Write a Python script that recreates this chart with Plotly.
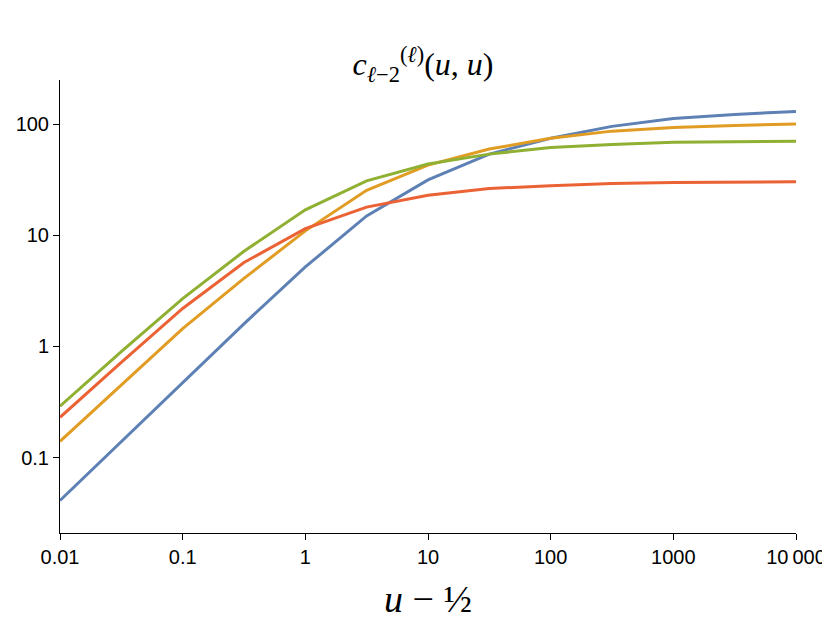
import plotly.graph_objects as go

x = [0.01, 0.0316, 0.1, 0.316, 1, 3.16, 10, 31.6, 100, 316, 1000, 3162, 10000]

blue = [0.041, 0.14, 0.47, 1.6, 5.2, 15, 31.6, 54, 75, 96, 113, 123, 131]
orange = [0.14, 0.45, 1.45, 4.1, 11, 25.5, 43, 60, 75, 87, 94, 98, 101]
green = [0.29, 0.9, 2.7, 7.2, 17, 31, 44, 54, 62, 66, 69, 70, 70.5]
red = [0.23, 0.72, 2.2, 5.7, 11.5, 18, 23, 26.5, 28, 29.3, 30, 30.3, 30.5]

series = [
    ("blue", blue, "#5E81B5"),
    ("orange", orange, "#E19C24"),
    ("green", green, "#8FB032"),
    ("red", red, "#EB6235"),
]

fig = go.Figure()
for name, ys, col in series:
    fig.add_trace(go.Scatter(x=x, y=ys, mode="lines", name=name,
                             line=dict(color=col, width=3)))

axis = dict(type="log", showgrid=False, zeroline=False, showline=True,
            linecolor="black", linewidth=1, ticks="outside", ticklen=6,
            tickcolor="black", mirror=False,
            tickfont=dict(family="Liberation Sans", size=20, color="black"))

fig.update_xaxes(axis, range=[-2, 4],
                 tickvals=[0.01, 0.1, 1, 10, 100, 1000, 10000],
                 ticktext=["0.01", "0.1", "1", "10", "100", "1000", "10\u2009000"],
                 title=dict(text="<i>u</i> \u2212 \u00bd",
                            font=dict(family="Liberation Serif", size=38, color="black"),
                            standoff=18))
fig.update_yaxes(axis, range=[-1.68, 2.40],
                 tickvals=[0.1, 1, 10, 100], ticktext=["0.1", "1", "10", "100"])

fig.update_layout(
    width=830, height=642,
    plot_bgcolor="white", paper_bgcolor="white",
    showlegend=False,
    margin=dict(l=52, r=42, t=72, b=117, autoexpand=False),
    title=dict(text="<i>c</i><sub><i>\u2113</i>\u22122</sub><sup>(<i>\u2113</i>)</sup>(<i>u</i>, <i>u</i>)",
               x=0.5, xanchor="center", y=0.93,
               font=dict(family="Liberation Serif", size=32, color="black")),
)

fig.write_html("out.html")
